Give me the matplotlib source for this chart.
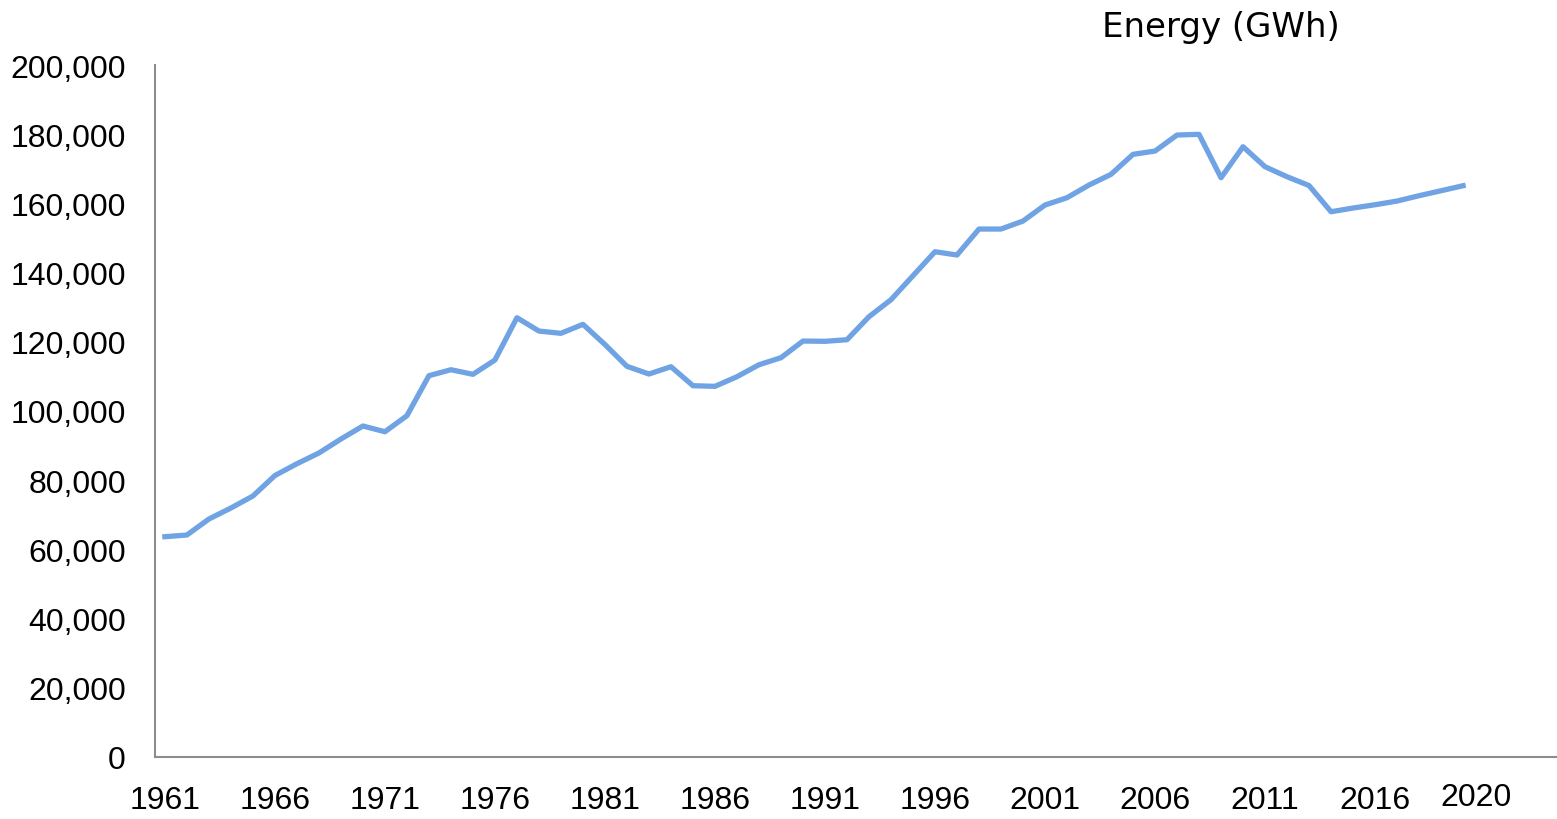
import matplotlib
matplotlib.use("Agg")
import matplotlib.pyplot as plt

# data
years = list(range(1961, 2021))
energy_gwh = [
    63670, 64160, 68780, 71960, 75430, 81350, 84760, 87860, 91900, 95660,
    94010, 98640, 110200, 111930, 110600, 114730, 126960, 123110, 122450, 125050,
    119210, 112910, 110690, 112800, 107310, 107130, 109910, 113370, 115400, 120220,
    120140, 120600, 127250, 132160, 139100, 146030, 145080, 152590, 152590, 154900,
    159530, 161640, 165310, 168400, 174180, 175130, 179760, 179960, 167420, 176380,
    170600, 167710, 165160, 157590, 158660, 159610, 160680, 162220, 163660, 165110,
]
y_ticks = list(range(0, 200001, 20000))
x_label_years = list(range(1961, 2017, 5))

tick_font = "Liberation Sans"
tick_size = 23

fig = plt.figure(figsize=(15.57, 8.2), dpi=100)
ax = fig.add_axes([155 / 1557, 62 / 820, 1 - 155 / 1557, (758 - 66) / 820])

x = list(range(len(years)))
ax.plot(x, energy_gwh, color="#6FA3E4", linewidth=3.8)

ax.set_xlim(-0.45, 63.27)
ax.set_ylim(0, 200000)

ax.set_yticks(y_ticks)
ax.set_yticklabels([f"{v:,}" for v in y_ticks], fontsize=tick_size, fontfamily=tick_font)
ax.set_xticks([years.index(yr) for yr in x_label_years])
ax.set_xticklabels([str(yr) for yr in x_label_years], fontsize=tick_size, fontfamily=tick_font)
ax.tick_params(axis="y", length=0, pad=21)
ax.tick_params(axis="x", length=0, pad=20)

# the last year label sits a bit off the grid in the original
ax.text(59.6, -0.036, "2020", transform=ax.get_xaxis_transform(), ha="center", va="top",
        fontsize=tick_size, fontfamily=tick_font)

for s in ["top", "right"]:
    ax.spines[s].set_visible(False)
for s in ["left", "bottom"]:
    ax.spines[s].set_color("#8C8C8C")
    ax.spines[s].set_linewidth(1.5)

fig.text(1221 / 1557, 1 - 27 / 820, "Energy (GWh)", ha="center", va="center",
         fontsize=24.5, fontfamily="DejaVu Sans")

fig.savefig("out.png", dpi=100)
